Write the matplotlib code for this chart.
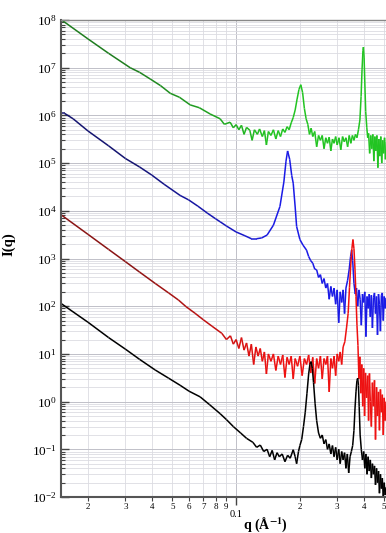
import numpy as np
import matplotlib
matplotlib.use("Agg")
import matplotlib.pyplot as plt
from matplotlib.collections import LineCollection
from matplotlib.ticker import LogLocator, FuncFormatter, NullFormatter

plt.rcParams['font.family'] = ['Liberation Serif', 'DejaVu Serif']
plt.rcParams['mathtext.fontset'] = 'stix'

# ---- data: q (1/A) and I(q) ----
q_green = [0.015, 0.02, 0.025, 0.0316, 0.035, 0.0393, 0.044, 0.0489, 0.054, 0.0607,
           0.067, 0.0754, 0.084, 0.088, 0.0937, 0.097, 0.1, 0.103, 0.106, 0.109,
           0.112, 0.116, 0.119, 0.122, 0.126, 0.129, 0.133, 0.136, 0.139, 0.142,
           0.146, 0.15, 0.154, 0.158, 0.162, 0.166, 0.17, 0.174, 0.178, 0.182,
           0.186, 0.19, 0.194, 0.198, 0.202, 0.206, 0.21, 0.214, 0.218, 0.222,
           0.226, 0.23, 0.235, 0.24, 0.245, 0.25, 0.255, 0.26, 0.265, 0.27,
           0.275, 0.28, 0.285, 0.29, 0.295, 0.3, 0.306, 0.312, 0.318, 0.324,
           0.33, 0.336, 0.342, 0.348, 0.354, 0.36, 0.366, 0.372, 0.378, 0.384,
           0.389, 0.393, 0.397, 0.399, 0.402, 0.405, 0.409, 0.414, 0.418, 0.422,
           0.427, 0.432, 0.437, 0.442, 0.447, 0.452, 0.457, 0.462, 0.467, 0.472,
           0.477, 0.482, 0.487, 0.492, 0.497, 0.502, 0.507, 0.512]
I_green = [1.0e8, 4.0e7, 2.0e7, 1.0e7, 8.0e6, 5.8e6, 4.2e6, 2.9e6, 2.4e6, 1.66e6,
           1.45e6, 1.07e6, 8.5e5, 6.5e5, 7.2e5, 5.5e5, 6.4e5, 5.0e5, 6.2e5, 4.0e5,
           5.6e5, 4.9e5, 3.0e5, 5.0e5, 4.0e5, 5.2e5, 3.6e5, 4.8e5, 2.4e5, 4.6e5,
           3.8e5, 5.0e5, 3.2e5, 4.8e5, 3.6e5, 5.2e5, 4.4e5, 5.8e5, 5.0e5, 7.0e5,
           9.0e5, 1.3e6, 2.2e6, 3.5e6, 4.4e6, 3.0e6, 1.4e6, 8.5e5, 6.5e5, 4.0e5,
           5.4e5, 3.6e5, 4.6e5, 2.2e5, 3.8e5, 3.0e5, 3.8e5, 2.0e5, 3.4e5, 2.6e5,
           3.5e5, 1.8e5, 3.2e5, 2.6e5, 3.6e5, 2.4e5, 3.4e5, 1.9e5, 3.6e5, 2.8e5,
           3.4e5, 2.2e5, 3.8e5, 2.6e5, 3.8e5, 3.0e5, 4.0e5, 3.4e5, 5.0e5, 8.0e5,
           2.5e6, 9.0e6, 2.3e7, 2.7e7, 1.6e7, 5.0e6, 1.2e6, 5.5e5, 3.4e5, 4.2e5,
           1.6e5, 3.8e5, 2.0e5, 4.0e5, 1.1e5, 3.6e5, 1.8e5, 3.8e5, 8.0e4, 3.2e5,
           1.4e5, 3.6e5, 1.0e5, 3.0e5, 1.6e5, 3.4e5, 1.2e5, 2.8e5]

q_blue = [0.015, 0.0155, 0.017, 0.02, 0.025, 0.03, 0.035, 0.04, 0.0457, 0.0544,
          0.0596, 0.066, 0.073, 0.08, 0.084, 0.09, 0.1, 0.11, 0.118, 0.125,
          0.132, 0.14, 0.15, 0.161, 0.168, 0.172, 0.175, 0.179, 0.183, 0.186,
          0.19, 0.193, 0.2, 0.207, 0.215, 0.22, 0.225, 0.23, 0.235, 0.24,
          0.245, 0.25, 0.255, 0.26, 0.265, 0.27, 0.275, 0.28, 0.285, 0.29,
          0.295, 0.3, 0.305, 0.31, 0.315, 0.32, 0.325, 0.33, 0.336, 0.342,
          0.347, 0.351, 0.355, 0.36, 0.365, 0.37, 0.375, 0.38, 0.385, 0.39,
          0.395, 0.4, 0.405, 0.41, 0.415, 0.42, 0.425, 0.43, 0.435, 0.44,
          0.445, 0.45, 0.455, 0.46, 0.465, 0.47, 0.475, 0.48, 0.485, 0.49,
          0.495, 0.5, 0.505, 0.51]
I_blue = [1.1e6, 1.1e6, 8.5e5, 4.7e5, 2.3e5, 1.25e5, 8.3e4, 5.6e4, 3.6e4, 2.1e4,
          1.7e4, 1.25e4, 9.0e3, 6.8e3, 5.9e3, 4.8e3, 3.6e3, 3.0e3, 2.6e3, 2.6e3,
          2.7e3, 3.1e3, 5.0e3, 1.23e4, 4.0e4, 1.1e5, 1.8e5, 1.2e5, 5.5e4, 3.8e4,
          1.2e4, 4.7e3, 2.5e3, 1.9e3, 1.5e3, 1.1e3, 9.0e2, 8.0e2, 6.0e2, 5.8e2,
          4.0e2, 4.6e2, 3.0e2, 3.8e2, 2.4e2, 3.0e2, 1.4e2, 2.6e2, 1.6e2, 2.4e2,
          1.1e2, 2.2e2, 4.5e1, 2.0e2, 1.2e2, 2.2e2, 7.0e1, 2.4e2, 3.5e2, 6.0e2,
          1.1e3, 1.5e3, 9.0e2, 3.0e2, 1.8e2, 2.4e2, 1.0e2, 2.2e2, 1.4e2, 4.0e1,
          1.8e2, 1.2e2, 2.0e2, 2.3e1, 1.6e2, 9.0e1, 1.8e2, 6.0e1, 1.7e2, 3.5e1,
          1.5e2, 1.9e2, 7.0e1, 1.6e2, 2.5e1, 1.8e2, 1.1e2, 3.0e1, 1.7e2, 1.9e2,
          5.0e1, 1.6e2, 9.0e1, 1.5e2]

q_red = [0.015, 0.02, 0.025, 0.03, 0.035, 0.0415, 0.048, 0.0534, 0.058, 0.064,
         0.07, 0.077, 0.0856, 0.09, 0.094, 0.097, 0.1, 0.103, 0.106, 0.109,
         0.112, 0.115, 0.118, 0.121, 0.124, 0.127, 0.13, 0.133, 0.136, 0.139,
         0.142, 0.146, 0.15, 0.154, 0.158, 0.162, 0.166, 0.17, 0.174, 0.178,
         0.182, 0.186, 0.19, 0.195, 0.2, 0.205, 0.21, 0.215, 0.22, 0.225,
         0.23, 0.235, 0.24, 0.245, 0.25, 0.255, 0.26, 0.265, 0.27, 0.275,
         0.28, 0.285, 0.29, 0.295, 0.3, 0.305, 0.31, 0.315, 0.32, 0.326,
         0.332, 0.338, 0.343, 0.348, 0.352, 0.356, 0.36, 0.364, 0.368, 0.372,
         0.376, 0.38, 0.384, 0.388, 0.392, 0.396, 0.4, 0.404, 0.408, 0.413,
         0.418, 0.422, 0.426, 0.43, 0.435, 0.44, 0.445, 0.45, 0.455, 0.46,
         0.465, 0.47, 0.475, 0.48, 0.485, 0.49, 0.495, 0.5, 0.505, 0.51]
I_red = [8.1e3, 3.2e3, 1.55e3, 8.6e2, 5.2e2, 3.0e2, 1.9e2, 1.35e2, 9.8e1, 7.1e1,
         5.2e1, 3.8e1, 2.7e1, 2.0e1, 2.4e1, 1.6e1, 2.0e1, 1.3e1, 2.2e1, 1.2e1,
         1.7e1, 9.0, 1.6e1, 6.0, 1.4e1, 9.0, 1.3e1, 7.0, 1.1e1, 3.8,
         1.0e1, 7.0, 1.0e1, 4.5, 9.0, 6.0, 9.5, 3.2, 8.5, 6.0,
         9.0, 3.0, 8.0, 5.5, 9.0, 3.5, 8.0, 6.0, 9.5, 4.0,
         8.5, 2.4, 8.0, 5.0, 9.0, 3.0, 8.0, 6.0, 9.0, 1.6,
         8.0, 5.0, 9.0, 3.5, 1.0e1, 7.0, 1.1e1, 6.0, 1.4e1, 1.8e1,
         3.5e1, 7.1e1, 2.5e2, 8.0e2, 1.6e3, 2.5e3, 1.6e3, 6.0e2, 1.6e2, 4.0e1,
         1.5e1, 3.0, 8.7, 1.5, 6.0, 0.8, 5.0, 0.5, 4.0, 1.2,
         3.5, 0.4, 3.9, 1.0, 0.3, 2.5, 0.8, 2.8, 0.16, 2.0,
         0.5, 1.6, 0.25, 1.8, 0.6, 1.4, 0.2, 1.2, 0.4, 1.0]

q_black = [0.015, 0.02, 0.025, 0.03, 0.035, 0.0415, 0.048, 0.0544, 0.06, 0.0676,
           0.075, 0.084, 0.09, 0.097, 0.105, 0.112, 0.12, 0.125, 0.13, 0.135,
           0.14, 0.144, 0.148, 0.152, 0.156, 0.16, 0.165, 0.17, 0.175, 0.18,
           0.186, 0.19, 0.193, 0.197, 0.2, 0.204, 0.208, 0.212, 0.216, 0.22,
           0.223, 0.226, 0.229, 0.232, 0.236, 0.24, 0.245, 0.25, 0.255, 0.26,
           0.265, 0.27, 0.275, 0.28, 0.285, 0.29, 0.295, 0.3, 0.305, 0.31,
           0.315, 0.32, 0.325, 0.33, 0.335, 0.34, 0.345, 0.35, 0.355, 0.36,
           0.364, 0.368, 0.372, 0.375, 0.378, 0.381, 0.385, 0.39, 0.395, 0.4,
           0.405, 0.41, 0.415, 0.42, 0.425, 0.43, 0.435, 0.44, 0.445, 0.45,
           0.455, 0.46, 0.465, 0.47, 0.475, 0.48, 0.485, 0.49, 0.495, 0.5,
           0.505, 0.51]
I_black = [1.12e2, 4.6e1, 2.2e1, 1.26e1, 7.7, 4.6, 3.1, 2.2, 1.65, 1.26,
           0.86, 0.56, 0.42, 0.3, 0.22, 0.17, 0.14, 0.11, 0.123, 0.09,
           0.1, 0.07, 0.095, 0.06, 0.085, 0.07, 0.08, 0.055, 0.075, 0.065,
           0.098, 0.07, 0.05, 0.09, 0.12, 0.16, 0.3, 0.6, 1.5, 3.8,
           6.0, 6.9, 5.0, 2.5, 0.9, 0.4, 0.22, 0.17, 0.2, 0.13,
           0.16, 0.1, 0.13, 0.08, 0.12, 0.07, 0.11, 0.06, 0.1, 0.05,
           0.09, 0.06, 0.085, 0.04, 0.08, 0.032, 0.07, 0.09, 0.12, 0.25,
           0.7, 1.6, 2.8, 3.1, 2.2, 0.8, 0.2, 0.098, 0.06, 0.09,
           0.04, 0.08, 0.03, 0.07, 0.035, 0.06, 0.025, 0.05, 0.03, 0.045,
           0.018, 0.04, 0.02, 0.035, 0.012, 0.03, 0.015, 0.025, 0.01, 0.02,
           0.011, 0.016]

y_ticks = [1e-2, 1e-1, 1e0, 1e1, 1e2, 1e3, 1e4, 1e5, 1e6, 1e7, 1e8]


def shade(c1, c2, t):
    c1 = np.array(matplotlib.colors.to_rgb(c1))
    c2 = np.array(matplotlib.colors.to_rgb(c2))
    return tuple(c1 + (c2 - c1) * t)


def draw(ax, q, I, dark, bright):
    # colour goes from dark at low q to bright at high q, like the original
    q = np.asarray(q)
    pts = np.column_stack([q, np.asarray(I)])
    segs = np.stack([pts[:-1], pts[1:]], axis=1)
    t = (np.log10(q[:-1]) - np.log10(0.03)) / (np.log10(0.15) - np.log10(0.03))
    t = np.clip(t, 0, 1)
    cols = [shade(dark, bright, v) for v in t]
    ax.add_collection(LineCollection(segs, colors=cols, linewidths=1.1))


fig = plt.figure(figsize=(3.86, 5.33), dpi=100)
ax = fig.add_axes([0.158, 0.0675, 0.842, 0.895])
ax.set_xscale('log')
ax.set_yscale('log')

draw(ax, q_green, I_green, '#1f7d1f', '#22c422')
draw(ax, q_blue, I_blue, '#141470', '#1a1ae6')
draw(ax, q_red, I_red, '#8a1414', '#ee1111')
draw(ax, q_black, I_black, '#000000', '#000000')

ax.set_xlim(0.0149, 0.51)
ax.set_ylim(1e-2, 1e8)

ax.yaxis.set_major_locator(LogLocator(base=10, numticks=20))
ax.yaxis.set_minor_locator(LogLocator(base=10, subs=np.arange(2, 10), numticks=20))
ax.yaxis.set_minor_formatter(NullFormatter())
ax.set_yticks(y_ticks)

ax.xaxis.set_major_locator(LogLocator(base=10, numticks=10))
ax.xaxis.set_minor_locator(LogLocator(base=10, subs=np.arange(2, 10), numticks=10))
ax.xaxis.set_major_formatter(FuncFormatter(lambda v, p: '%g' % v))


def lead_digit(v, pos):
    return str(int(round(v / 10 ** np.floor(np.log10(v) + 1e-9))))


ax.xaxis.set_minor_formatter(FuncFormatter(lead_digit))

ax.tick_params(axis='y', which='major', direction='in', length=6, width=1,
               labelsize=9.5, pad=3)
ax.tick_params(axis='y', which='minor', direction='in', length=3, width=0.8)
ax.tick_params(axis='x', which='major', direction='out', length=6, width=1,
               labelsize=7.5, pad=3.5)
ax.tick_params(axis='x', which='minor', direction='out', length=3, width=0.8,
               labelsize=6.5, pad=1)
ax.tick_params(top=False, right=False, which='both', colors='#444444',
               labelcolor='black')

ax.grid(True, which='major', color='#c0c0c8', linewidth=0.7)
ax.grid(True, which='minor', color='#dcdce2', linewidth=0.6)
ax.set_axisbelow(True)

for s in ['left', 'bottom']:
    ax.spines[s].set_color('#555555')
    ax.spines[s].set_linewidth(1.5)
ax.spines['top'].set_color('#888888')
ax.spines['top'].set_linewidth(1.0)
ax.spines['right'].set_visible(False)

ax.set_xlabel(r'q (Å$^{\mathbf{-1}}$)', fontsize=10, fontweight='bold')
ax.xaxis.set_label_coords(0.63, -0.039)
ax.set_ylabel('I(q)', fontsize=10.5, fontweight='bold')
ax.yaxis.set_label_coords(-0.14, 0.53)

fig.savefig('out.png', dpi=100)
